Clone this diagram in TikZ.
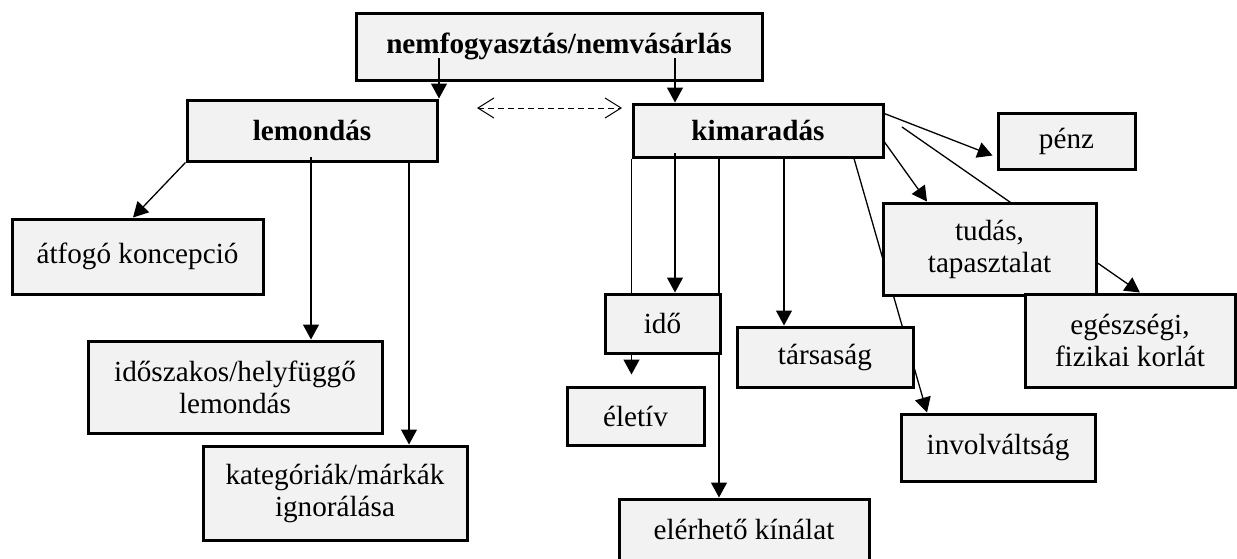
\documentclass[tikz,border=0pt]{standalone}
\usepackage{fontspec}
\setmainfont{Liberation Serif}
\usetikzlibrary{arrows.meta,backgrounds,calc}
\definecolor{boxgray}{HTML}{F2F2F2}
% \bx{name}{x1}{y1}{x2}{y2}{style}{text}
\newcommand\bx[7]{\node[#6, minimum width={(#4-#2)*0.5pt}, minimum height={(#5-#3)*0.5pt}]
  (#1) at ({(#2+#4)/2},{(#3+#5)/2}) {#7};}
\begin{document}
\begin{tikzpicture}[x=0.5pt,y=-0.5pt,
  box/.style={draw, line width=1.5pt, fill=boxgray, inner sep=0pt, align=center,
    font=\fontsize{14.6}{16}\selectfont},
  boldbox/.style={box, font=\fontsize{14.6}{16}\selectfont\bfseries},
  arr/.style={-{Triangle[length=7.5pt,width=8pt]}, line width=0.65pt},
  dasharr/.style={{Straight Barb[length=8pt,width=10pt]}-{Straight Barb[length=8pt,width=10pt]},
    line width=0.5pt, dash pattern=on 3pt off 2pt}]
\useasboundingbox (0,0) rectangle (1237,558);

\bx{top}{356}{13}{762}{80}{boldbox}{nemfogyasztás/nemvásárlás}
\bx{lem}{187}{100}{437}{161}{boldbox}{lemondás}
\bx{kim}{633}{104}{883}{157}{boldbox}{kimaradás}
\bx{atf}{12}{219}{263}{294}{box}{átfogó koncepció}
\bx{idosz}{88}{341}{382}{433}{box}{időszakos/helyfüggő\\lemondás}
\bx{kat}{203}{446}{467}{540}{box}{kategóriák/márkák\\ignorálása}
\bx{ido}{605}{294}{720}{353}{box}{idő}
\bx{elet}{567}{387}{704}{445}{box}{életív}
\bx{eler}{619}{499}{869}{560}{box}{elérhető kínálat}
\bx{tars}{737}{327}{913}{387}{box}{társaság}
\bx{inv}{901}{414}{1095}{481}{box}{involváltság}
\bx{penz}{998}{113}{1135}{169}{box}{pénz}
\bx{tud}{883}{203}{1096}{295}{box}{tudás,\\tapasztalat}
\bx{egesz}{1025}{294}{1235}{387}{box}{egészségi,\\fizikai korlát}

\coordinate (dl) at (477,108);
\coordinate (dr) at (622,108);
\coordinate (free) at (902,127);

\begin{pgfonlayer}{background}
\draw[arr, shorten >=5.5pt] (kim.south west) -- (kim.south west |- elet.north);
\draw[arr] (719,0 |- kim.south) -- (719,0 |- eler.north);
\draw[arr] (854,0 |- kim.south) -- (927,0 |- inv.north);
\draw[arr] (free) -- (1140,0 |- egesz.north);
\end{pgfonlayer}

\draw[arr] (439,58) -- (439,0 |- lem.north);
\draw[arr] (675,58) -- (675,0 |- kim.north);
\draw[dasharr] (dl) -- (dr);
\draw[arr] (lem.south west) -- (133,0 |- atf.north);
\draw[arr] (311,157) -- (311,0 |- idosz.north);
\draw[arr] (409,0 |- lem.south) -- (409,0 |- kat.north);
\draw[arr] (675,153) -- (675,0 |- ido.north);
\draw[arr] (784,0 |- kim.south) -- (784,0 |- tars.north);
\draw[arr] (883,113) -- ($(penz.south west)+(-4,-15)$);
\draw[arr] (883,140) -- (927,0 |- tud.north);
\end{tikzpicture}
\end{document}
